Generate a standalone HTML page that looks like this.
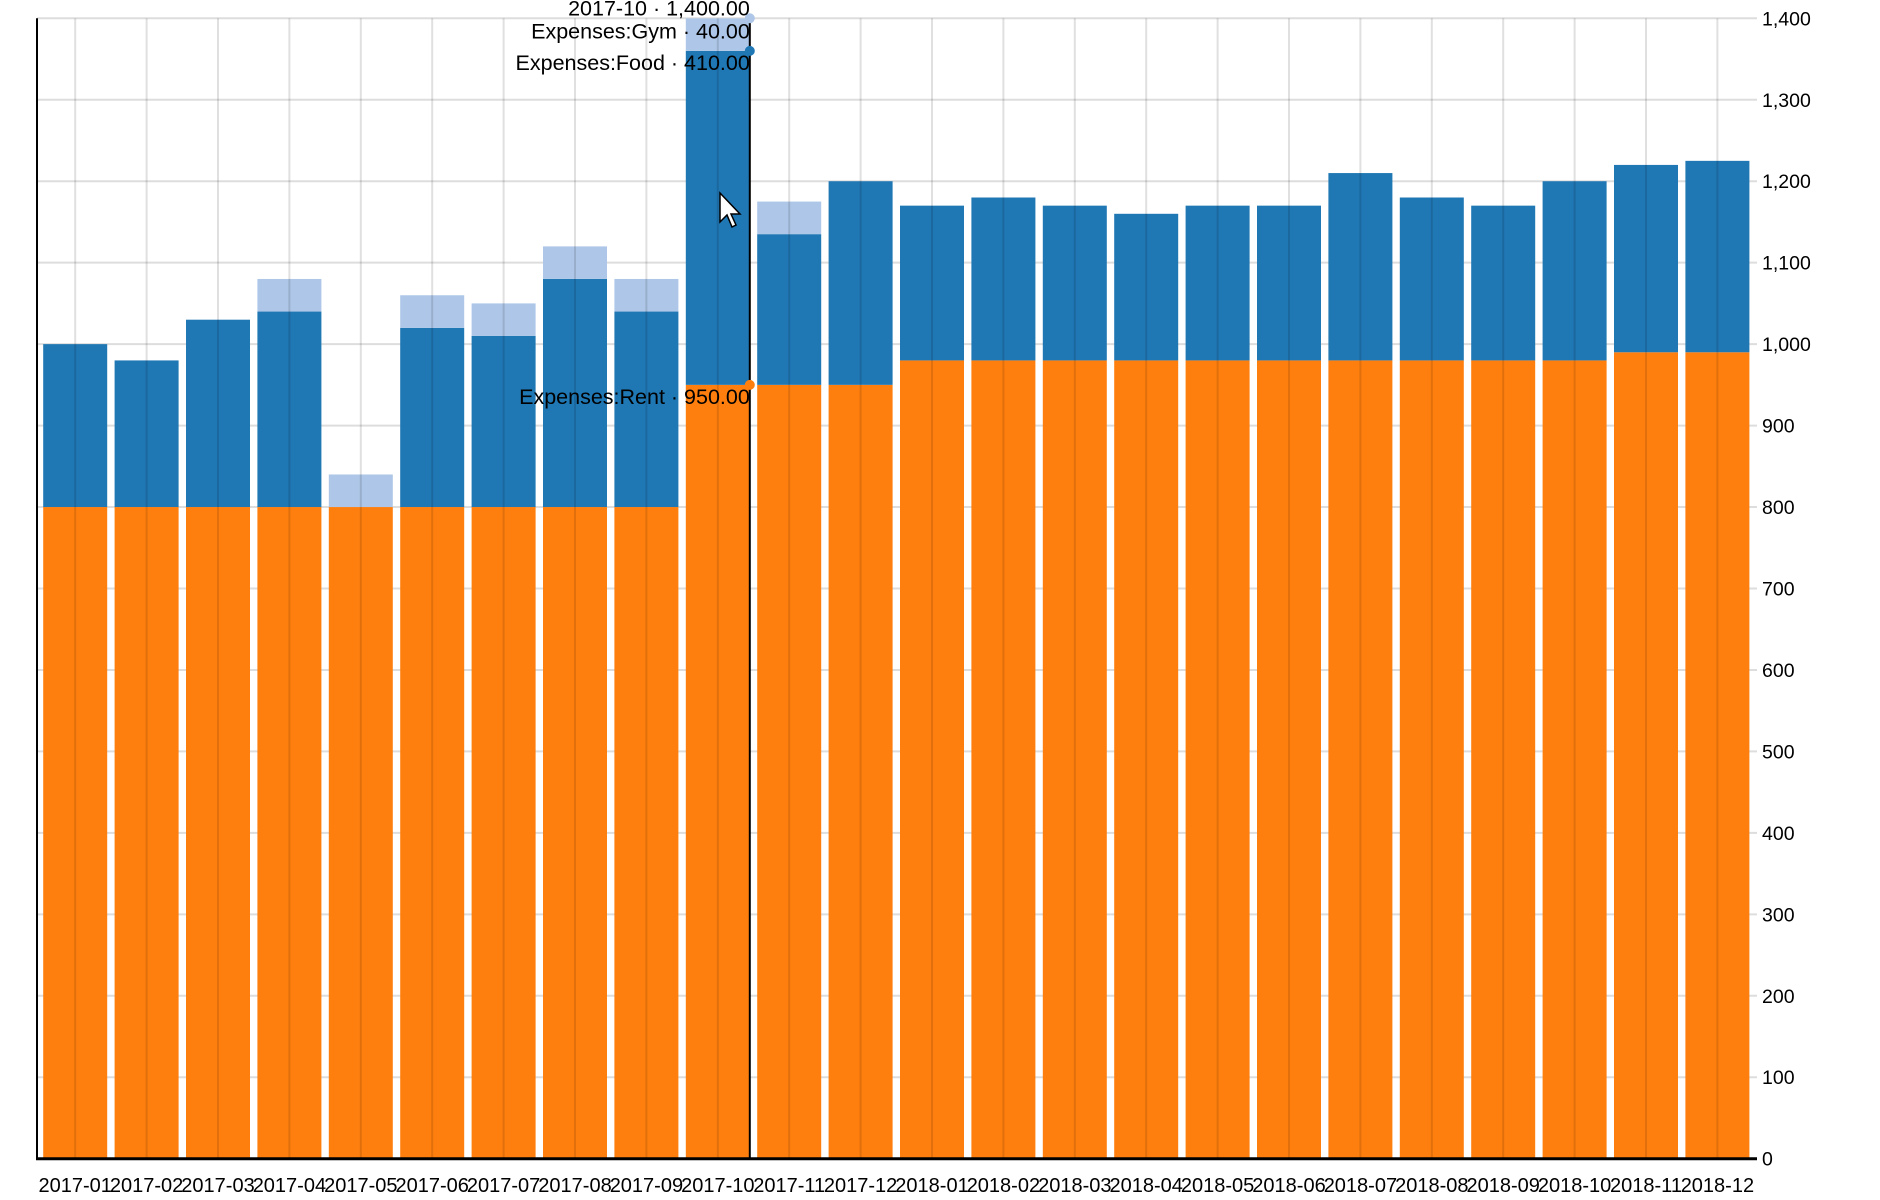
<!DOCTYPE html>
<html><head><meta charset="utf-8"><style>
html,body{margin:0;padding:0;background:#fff;}
svg{display:block;font-family:"Liberation Sans",sans-serif;}
</style></head><body>
<svg id="chart" width="1880" height="1200">
<g id="grid"></g>
<g id="bars"></g>
<g id="vgrid"></g>
<g id="axes"></g>
<g id="hover"></g>
</svg>
<script>
const categories=["2017-01","2017-02","2017-03","2017-04","2017-05","2017-06","2017-07","2017-08","2017-09","2017-10","2017-11","2017-12","2018-01","2018-02","2018-03","2018-04","2018-05","2018-06","2018-07","2018-08","2018-09","2018-10","2018-11","2018-12"];
const rentValues=[800,800,800,800,800,800,800,800,800,950,950,950,980,980,980,980,980,980,980,980,980,980,990,990];
const foodValues=[200,180,230,240,0,220,210,280,240,410,185,250,190,200,190,180,190,190,230,200,190,220,230,235];
const gymValues=[0,0,0,40,40,40,40,40,40,40,40,0,0,0,0,0,0,0,0,0,0,0,0,0];
const yTicks=[0,100,200,300,400,500,600,700,800,900,1000,1100,1200,1300,1400];
const yTickLabels=["0","100","200","300","400","500","600","700","800","900","1,000","1,100","1,200","1,300","1,400"];
const hoverIndex=9;

const NS="http://www.w3.org/2000/svg";
const X0=39.5,BAND=71.4,BW=64,Y0=1158.7,YTOP=18.3,YMAX=1400,XEND=1757;
function x(i){return X0+i*BAND+(BAND-BW)/2;}
function xc(i){return X0+(i+0.5)*BAND;}
function y(v){return Y0-(v/YMAX)*(Y0-YTOP);}
function mk(tag,attrs,parent){const e=document.createElementNS(NS,tag);for(const k in attrs)e.setAttribute(k,attrs[k]);parent.appendChild(e);return e;}
const grid=document.getElementById('grid'),bars=document.getElementById('bars'),vgrid=document.getElementById('vgrid'),axes=document.getElementById('axes'),hover=document.getElementById('hover');

yTicks.forEach((t,k)=>{
  const l=mk('line',{x1:37,x2:XEND,y1:y(t),y2:y(t),stroke:'#ddd','stroke-width':2},grid);
  
  
  const tx=mk('text',{x:1762,y:y(t)+7,'font-size':19.5,fill:'#000'},axes);
  tx.textContent=yTickLabels[k];
  
  
});

categories.forEach((c,i)=>{
  const r=rentValues[i],f=foodValues[i],g=gymValues[i];
  const b1=mk('rect',{x:x(i),width:BW,y:y(r),height:y(0)-y(r),fill:'#ff7f0e'},bars);
  
  
  if(f>0){const b2=mk('rect',{x:x(i),width:BW,y:y(r+f),height:y(r)-y(r+f),fill:'#1f77b4'},bars);
  
  }
  if(g>0){const b3=mk('rect',{x:x(i),width:BW,y:y(r+f+g),height:y(r+f)-y(r+f+g),fill:'#aec7e8'},bars);
  
  }
  const vl=mk('line',{x1:xc(i),x2:xc(i),y1:YTOP,y2:Y0,stroke:'rgba(0,0,0,0.12)','stroke-width':2},vgrid);
  
  
  const tx=mk('text',{x:xc(i),y:1192,'font-size':20,'text-anchor':'middle',fill:'#000'},axes);
  tx.textContent=c;
  
  
});

const ax1=mk('line',{x1:37,x2:37,y1:YTOP,y2:Y0+1,stroke:'#000','stroke-width':2},axes);


const ax2=mk('line',{x1:36,x2:XEND,y1:Y0,y2:Y0,stroke:'#000','stroke-width':3},axes);



// hover
const hi=hoverIndex,hx=x(hi)+BW;
const hr=rentValues[hi],hf=foodValues[hi],hg=gymValues[hi];
const hl=mk('line',{x1:hx,x2:hx,y1:YTOP,y2:Y0,stroke:'#000','stroke-width':2},hover);


[[hr+hf+hg,'#aec7e8'],[hr+hf,'#1f77b4'],[hr,'#ff7f0e']].forEach(d=>{
  const c=mk('circle',{cx:hx,cy:y(d[0]),r:5,fill:d[1]},hover);
  
  
});
function fmt(v){return v.toLocaleString('en-US',{minimumFractionDigits:2,maximumFractionDigits:2});}
const labels=[[categories[hi]+' · '+fmt(hr+hf+hg),y(hr+hf+hg)-3,'hover-total-label'],['Expenses:Gym · '+fmt(hg),y(hr+hf+hg)+20,'hover-gym-label'],['Expenses:Food · '+fmt(hf),y(hr+hf)+19,'hover-food-label'],['Expenses:Rent · '+fmt(hr),y(hr)+19,'hover-rent-label']];
labels.forEach(l=>{
  const t=mk('text',{x:hx,y:l[1],'font-size':21.5,'text-anchor':'end',fill:'#000'},hover);
  t.textContent=l[0];
  
  
});
const cur=mk('path',{d:'M720 193 L720 222 L727 215 L732 227 L736 225 L731 214 L740 214 Z',fill:'#fff',stroke:'#000','stroke-width':1.5},hover);


</script>
</body></html>
